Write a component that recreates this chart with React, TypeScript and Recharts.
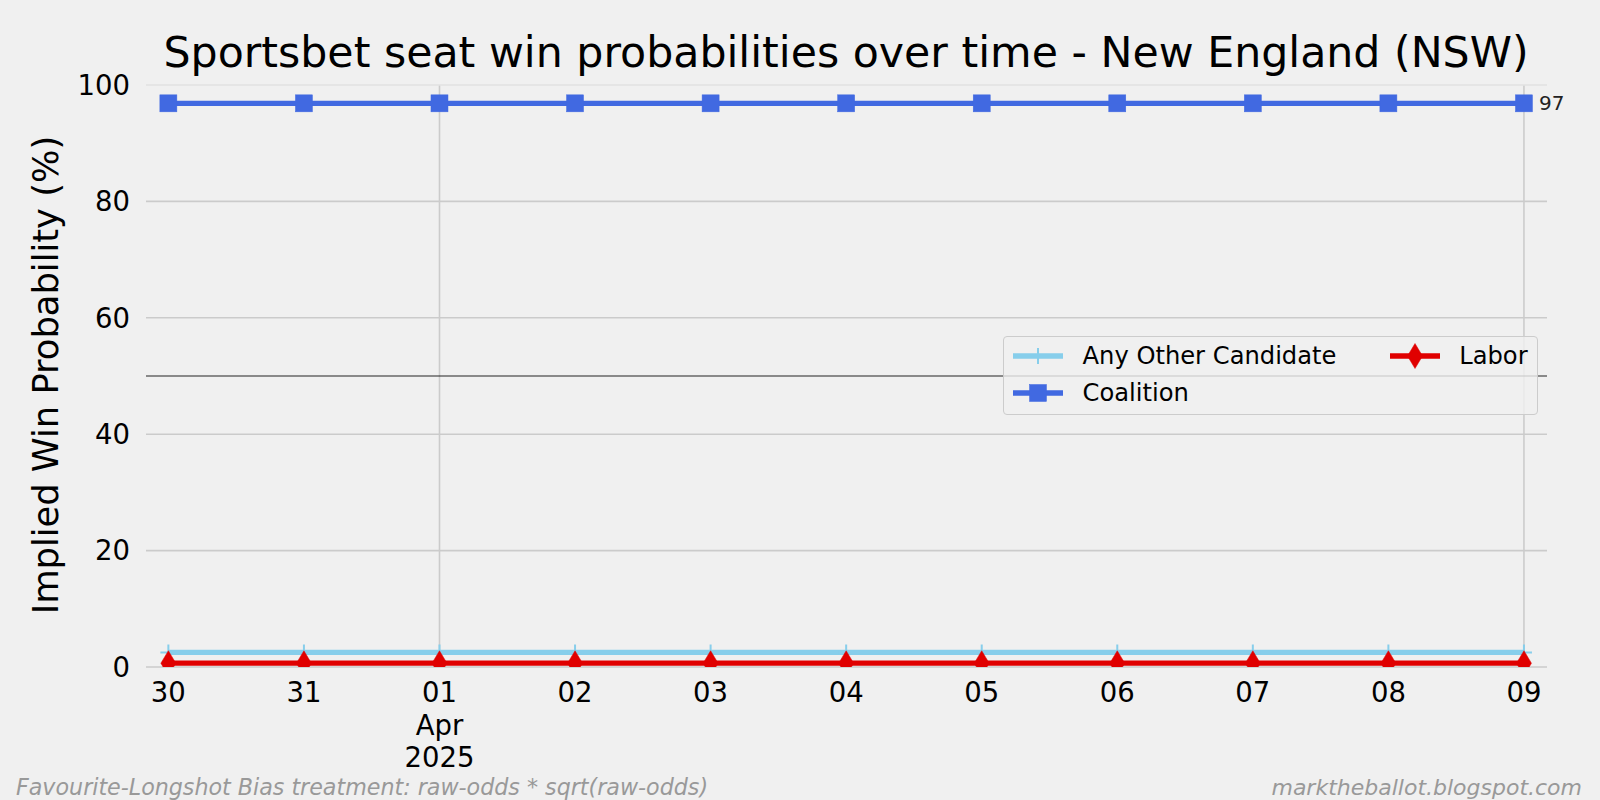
import React from 'react';
import { ComposedChart, Line, XAxis, YAxis, CartesianGrid, ReferenceLine, Legend, LabelList } from 'recharts';

const FONT = "'DejaVu Sans', sans-serif";

const dayIndex = [0, 1, 2, 3, 4, 5, 6, 7, 8, 9, 10];
const dayLabels = ['30', '31', '01', '02', '03', '04', '05', '06', '07', '08', '09'];
const dayExtra: string[][] = [[], [], ['Apr', '2025'], [], [], [], [], [], [], [], []];
const gridDays = [2, 10];

const anyOther = [2.5, 2.5, 2.5, 2.5, 2.5, 2.5, 2.5, 2.5, 2.5, 2.5, 2.5];
const coalition = [96.85, 96.85, 96.85, 96.85, 96.85, 96.85, 96.85, 96.85, 96.85, 96.85, 96.85];
const labor = [0.65, 0.65, 0.65, 0.65, 0.65, 0.65, 0.65, 0.65, 0.65, 0.65, 0.65];

const yTicks = [0, 20, 40, 60, 80, 100];
const yGrid = [0, 20, 40, 60, 80];

const seriesKeys = ['anyOther', 'coalition', 'labor'];
const seriesNames = ['Any Other Candidate', 'Coalition', 'Labor'];
const seriesColors = ['#87ceeb', '#4169e1', '#e00000'];

const data = dayIndex.map((d, i) => ({
  x: d,
  anyOther: anyOther[i],
  coalition: coalition[i],
  labor: labor[i],
}));

function plusMarker(cx: number, cy: number, color: string, key?: any) {
  return (
    <path key={key} d={`M${cx - 8},${cy}H${cx + 8}M${cx},${cy - 8}V${cy + 8}`} stroke={color} strokeWidth={2} fill="none" />
  );
}
function squareMarker(cx: number, cy: number, color: string, key?: any) {
  return <rect key={key} x={cx - 8.5} y={cy - 8.5} width={17} height={17} fill={color} stroke={color} strokeWidth={0.5} />;
}
function diamondMarker(cx: number, cy: number, color: string, key?: any) {
  return (
    <path key={key} d={`M${cx},${cy - 12.5}L${cx + 7.5},${cy}L${cx},${cy + 12.5}L${cx - 7.5},${cy}Z`} fill={color} stroke={color} strokeWidth={0.5} />
  );
}
const markers = [plusMarker, squareMarker, diamondMarker];

function XTick(props: any) {
  const { x, y, payload } = props;
  const i = dayIndex.indexOf(payload.value);
  const lines = [dayLabels[i], ...(dayExtra[i] || [])];
  return (
    <text x={x} y={y} textAnchor="middle" fontFamily={FONT} fontSize={27.5} fill="#000">
      {lines.map((l, k) => (
        <tspan key={k} x={x} dy={k === 0 ? 35 : 32.5}>
          {l}
        </tspan>
      ))}
    </text>
  );
}

function LegendBox() {
  const item = (i: number) => (
    <div key={i} style={{ display: 'flex', alignItems: 'center', height: 36.7 }}>
      <svg width={50} height={30} style={{ display: 'block', flex: 'none' }}>
        <line x1={0} y1={15} x2={50} y2={15} stroke={seriesColors[i]} strokeWidth={5.3} />
        {markers[i](25, 15, seriesColors[i])}
      </svg>
      <span style={{ marginLeft: 19.5, fontFamily: FONT, fontSize: 24.2, lineHeight: '30px', color: '#000', whiteSpace: 'nowrap' }}>
        {seriesNames[i]}
      </span>
    </div>
  );
  return (
    <div
      style={{
        boxSizing: 'border-box',
        width: 535,
        height: 79,
        border: '1px solid #cccccc',
        borderRadius: 4,
        background: 'rgba(240,240,240,0.8)',
        paddingTop: 1,
        paddingLeft: 9,
        display: 'grid',
        gridTemplateColumns: '376.7px auto',
        gridTemplateRows: '36.7px 36.7px',
        gridAutoFlow: 'column',
      }}
    >
      {item(0)}
      {item(1)}
      {item(2)}
    </div>
  );
}

function CoalitionLabel(props: any) {
  const { index, value } = props;
  if (index !== dayIndex.length - 1) return null;
  const x = props.x ?? props.viewBox?.x;
  const y = props.y ?? props.viewBox?.y;
  return (
    <text x={x + 15} y={y} dy="0.35em" fontFamily={FONT} fontSize={20} fill="#222" textAnchor="start">
      {Math.round(value)}
    </text>
  );
}

export default function App() {
  return (
    <div style={{ position: 'absolute', left: 0, top: 0, width: 1600, height: 800, background: '#f0f0f0', overflow: 'hidden' }}>
      <ComposedChart width={1600} height={800} data={data} margin={{ top: 85, right: 53, bottom: 33, left: 86 }}>
        <CartesianGrid stroke="#cbcbcb" strokeWidth={1.6} horizontalValues={yGrid} verticalValues={gridDays} />
        <ReferenceLine y={100} stroke="#e2e2e2" strokeWidth={1.6} />
        <XAxis
          dataKey="x"
          type="number"
          domain={[-0.165, 10.17]}
          ticks={dayIndex}
          interval={0}
          axisLine={false}
          tickLine={false}
          tickSize={0}
          tickMargin={0}
          height={100}
          tick={<XTick />}
        />
        <YAxis
          type="number"
          domain={[0, 100]}
          ticks={yTicks}
          allowDataOverflow
          axisLine={false}
          tickLine={false}
          tickSize={0}
          tickMargin={16}
          width={60}
          tick={{ fontSize: 27.5, fill: '#000', fontFamily: FONT }}
        />
        <ReferenceLine y={50} stroke="#222" strokeWidth={1.2} />
        {seriesKeys.map((k, i) => (
          <Line
            key={k}
            dataKey={k}
            name={seriesNames[i]}
            type="linear"
            stroke={seriesColors[i]}
            strokeWidth={5.3}
            isAnimationActive={false}
            dot={(p: any) => markers[i](p.cx, p.cy, seriesColors[i], `${k}-${p.index}`)}
            activeDot={false}
          >
            {k === 'coalition' ? <LabelList dataKey={k} content={<CoalitionLabel />} /> : null}
          </Line>
        ))}
        <Legend
          layout="horizontal"
          verticalAlign="middle"
          align="center"
          content={<LegendBox />}
          wrapperStyle={{ position: 'absolute', left: 1003, top: 336, width: 535, height: 79 }}
        />
      </ComposedChart>
      <svg width={1600} height={800} style={{ position: 'absolute', left: 0, top: 0, pointerEvents: 'none' }}>
        <text x={846} y={66.5} textAnchor="middle" fontFamily={FONT} fontSize={42.7} fill="#000">
          Sportsbet seat win probabilities over time - New England (NSW)
        </text>
        <text
          x={46}
          y={375}
          textAnchor="middle"
          dy="0.35em"
          transform="rotate(-90, 46, 375)"
          fontFamily={FONT}
          fontSize={35.3}
          fill="#000"
        >
          Implied Win Probability (%)
        </text>
        <text x={16} y={795} fontFamily={FONT} fontStyle="italic" fontSize={22.2} fill="#999">
          Favourite-Longshot Bias treatment: raw-odds * sqrt(raw-odds)
        </text>
        <text x={1582} y={795} textAnchor="end" fontFamily={FONT} fontStyle="italic" fontSize={22} fill="#999">
          marktheballot.blogspot.com
        </text>
      </svg>
    </div>
  );
}
